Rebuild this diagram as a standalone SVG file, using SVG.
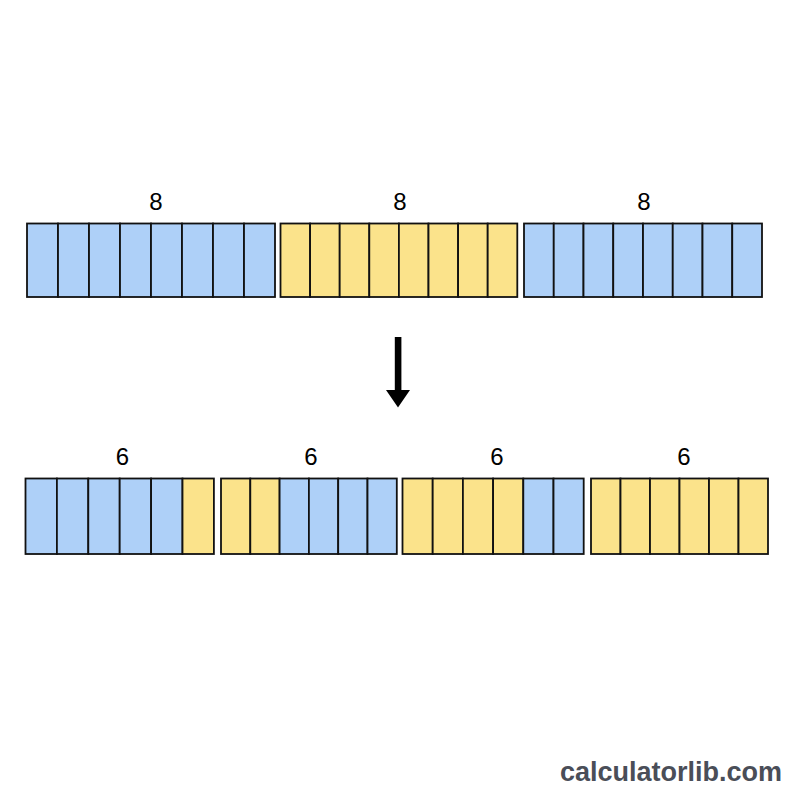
<svg xmlns="http://www.w3.org/2000/svg" width="800" height="800" viewBox="0 0 800 800">
<style>
.b{fill:#aed0f8;stroke:#111;stroke-width:1.8}
.y{fill:#fbe38b;stroke:#111;stroke-width:1.8}
.lbl{font-family:"Liberation Sans",Arial,sans-serif;font-size:24px;fill:#000;text-anchor:middle}
.wm{font-family:"Liberation Sans",Arial,sans-serif;font-size:27px;font-weight:bold;fill:#4a4e58;text-anchor:end}
</style>
<rect width="800" height="800" fill="#fff"/>
<g id="top1">
<text class="lbl" x="156" y="210">8</text>
<rect class="b" x="27" y="223.5" width="31" height="73.5"/>
<rect class="b" x="58" y="223.5" width="31" height="73.5"/>
<rect class="b" x="89" y="223.5" width="31" height="73.5"/>
<rect class="b" x="120" y="223.5" width="31" height="73.5"/>
<rect class="b" x="151" y="223.5" width="31" height="73.5"/>
<rect class="b" x="182" y="223.5" width="31" height="73.5"/>
<rect class="b" x="213" y="223.5" width="31" height="73.5"/>
<rect class="b" x="244" y="223.5" width="31" height="73.5"/>
</g>
<g id="top2">
<text class="lbl" x="400" y="210">8</text>
<rect class="y" x="280.5" y="223.5" width="29.6" height="73.5"/>
<rect class="y" x="310.1" y="223.5" width="29.6" height="73.5"/>
<rect class="y" x="339.7" y="223.5" width="29.6" height="73.5"/>
<rect class="y" x="369.3" y="223.5" width="29.6" height="73.5"/>
<rect class="y" x="398.9" y="223.5" width="29.6" height="73.5"/>
<rect class="y" x="428.5" y="223.5" width="29.6" height="73.5"/>
<rect class="y" x="458.1" y="223.5" width="29.6" height="73.5"/>
<rect class="y" x="487.7" y="223.5" width="29.6" height="73.5"/>
</g>
<g id="top3">
<text class="lbl" x="644" y="210">8</text>
<rect class="b" x="524" y="223.5" width="29.75" height="73.5"/>
<rect class="b" x="553.75" y="223.5" width="29.75" height="73.5"/>
<rect class="b" x="583.5" y="223.5" width="29.75" height="73.5"/>
<rect class="b" x="613.25" y="223.5" width="29.75" height="73.5"/>
<rect class="b" x="643" y="223.5" width="29.75" height="73.5"/>
<rect class="b" x="672.75" y="223.5" width="29.75" height="73.5"/>
<rect class="b" x="702.5" y="223.5" width="29.75" height="73.5"/>
<rect class="b" x="732.25" y="223.5" width="29.75" height="73.5"/>
</g>
<g id="connectors">
<rect x="394.8" y="337" width="6.6" height="54" fill="#000"/>
<polygon points="386,390 410,390 398,407.5" fill="#000"/>
</g>
<g id="bot1">
<text class="lbl" x="122.5" y="464.5">6</text>
<rect class="b" x="25.5" y="478.5" width="31.4" height="75.5"/>
<rect class="b" x="56.9" y="478.5" width="31.4" height="75.5"/>
<rect class="b" x="88.3" y="478.5" width="31.4" height="75.5"/>
<rect class="b" x="119.7" y="478.5" width="31.4" height="75.5"/>
<rect class="b" x="151.1" y="478.5" width="31.4" height="75.5"/>
<rect class="y" x="182.5" y="478.5" width="31.4" height="75.5"/>
</g>
<g id="bot2">
<text class="lbl" x="311" y="464.5">6</text>
<rect class="y" x="221" y="478.5" width="29.3" height="75.5"/>
<rect class="y" x="250.3" y="478.5" width="29.3" height="75.5"/>
<rect class="b" x="279.6" y="478.5" width="29.3" height="75.5"/>
<rect class="b" x="308.9" y="478.5" width="29.3" height="75.5"/>
<rect class="b" x="338.2" y="478.5" width="29.3" height="75.5"/>
<rect class="b" x="367.5" y="478.5" width="29.3" height="75.5"/>
</g>
<g id="bot3">
<text class="lbl" x="497" y="464.5">6</text>
<rect class="y" x="402.5" y="478.5" width="30.2" height="75.5"/>
<rect class="y" x="432.7" y="478.5" width="30.2" height="75.5"/>
<rect class="y" x="462.9" y="478.5" width="30.2" height="75.5"/>
<rect class="y" x="493.1" y="478.5" width="30.2" height="75.5"/>
<rect class="b" x="523.3" y="478.5" width="30.2" height="75.5"/>
<rect class="b" x="553.5" y="478.5" width="30.2" height="75.5"/>
</g>
<g id="bot4">
<text class="lbl" x="684" y="464.5">6</text>
<rect class="y" x="591" y="478.5" width="29.5" height="75.5"/>
<rect class="y" x="620.5" y="478.5" width="29.5" height="75.5"/>
<rect class="y" x="650" y="478.5" width="29.5" height="75.5"/>
<rect class="y" x="679.5" y="478.5" width="29.5" height="75.5"/>
<rect class="y" x="709" y="478.5" width="29.5" height="75.5"/>
<rect class="y" x="738.5" y="478.5" width="29.5" height="75.5"/>
</g>
<text class="wm" x="782" y="781">calculatorlib.com</text>
</svg>
